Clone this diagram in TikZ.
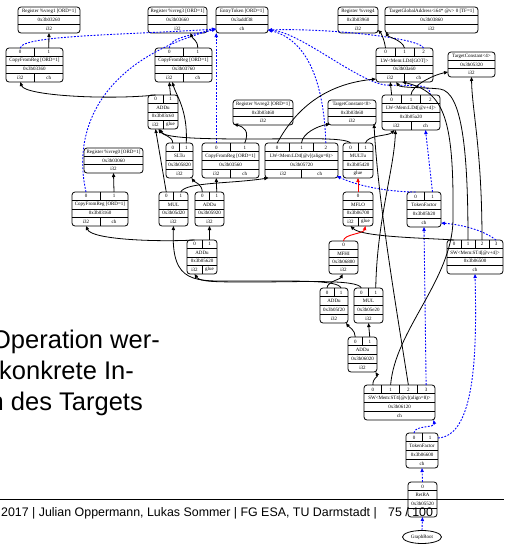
\documentclass[tikz,border=0pt]{standalone}
\usepackage{fontspec}
\setmainfont{Liberation Serif}
\newfontfamily\slidesans{Liberation Sans}
\usetikzlibrary{arrows.meta,calc,shapes.geometric}
\newcommand{\recfont}{\fontsize{5}{5.4}\selectfont}

\tikzset{
  recbox/.style={draw, line width=0.8pt, rounded corners=3pt, inner sep=0pt, outer sep=0pt},
  recline/.style={line width=0.6pt},
  rtext/.style={font=\recfont, inner sep=0pt},
  val/.style={draw=black, line width=0.8pt, -{Triangle[length=4pt,width=3.3pt]}},
  chn/.style={draw=blue, line width=0.9pt, dash pattern=on 1.8pt off 1.5pt, -{Triangle[length=4pt,width=3.3pt]}},
  glu/.style={draw=red, line width=0.9pt, -{Triangle[length=4pt,width=3.3pt]}},
  slidetext/.style={font=\slidesans\fontsize{25.5}{30}\selectfont, inner sep=0pt, anchor=base east},
  foottext/.style={font=\slidesans\fontsize{12.4}{14}\selectfont, inner sep=0pt},
}

% record node: name, x1, y1, x2, y2, number of operand ports, opcode, address, result types
\newcommand{\recnode}[9]{%
  \pgfmathsetmacro\RNw{#4-#2}%
  \pgfmathsetmacro\RNh{#5-#3}%
  \pgfmathsetmacro\RNcx{(#2+#4)/2}%
  \pgfmathsetmacro\RNcy{(#3+#5)/2}%
  \node[recbox, minimum width=\RNw pt, minimum height=\RNh pt] (#1) at (\RNcx,\RNcy) {};
  \ifnum#6>0 \def\RNnr{4}\else\def\RNnr{3}\fi
  \pgfmathsetmacro\RNdy{\RNh/\RNnr}%
  \pgfmathtruncatemacro\RNlast{\RNnr-1}%
  \foreach \kk in {1,...,\RNlast}{\draw[recline] (#2,{#3+\kk*\RNdy}) -- (#4,{#3+\kk*\RNdy});}
  \ifnum#6>0
    \pgfmathsetmacro\RNpw{\RNw/#6}%
    \pgfmathtruncatemacro\RNpl{#6-1}%
    \foreach \pp in {0,...,\RNpl}{%
      \coordinate (#1-p\pp) at ({#2+(\pp+0.5)*\RNpw},#3);
      \node[rtext] at ({#2+(\pp+0.5)*\RNpw},{#3+0.5*\RNdy}) {\pp};
      \ifnum\pp>0 \draw[recline] ({#2+\pp*\RNpw},#3) -- ({#2+\pp*\RNpw},{#3+\RNdy});\fi
    }
    \pgfmathsetmacro\RNly{#3+\RNdy}%
  \else
    \pgfmathsetmacro\RNly{#3}%
  \fi
  \node[rtext] at (\RNcx,{\RNly+0.5*\RNdy}) {#7};
  \node[rtext] at (\RNcx,{\RNly+1.5*\RNdy}) {#8};
  \pgfmathsetmacro\RNoy{\RNly+2*\RNdy}%
  \foreach \ot [count=\oc] in {#9}{\xdef\RNm{\oc}}%
  \pgfmathsetmacro\RNow{\RNw/\RNm}%
  \foreach \ot [count=\oc from 0] in {#9}{%
    \coordinate (#1-o\oc) at ({#2+(\oc+0.5)*\RNow},#5);
    \node[rtext] at ({#2+(\oc+0.5)*\RNow},{\RNoy+0.5*\RNdy}) {\ot};
    \ifnum\oc>0 \draw[recline] ({#2+\oc*\RNow},\RNoy) -- ({#2+\oc*\RNow},#5);\fi
  }
}

\begin{document}
\begin{tikzpicture}[x=1pt,y=-1pt]
\useasboundingbox (0,0) rectangle (504,544);
\fill[white] (0,0) rectangle (504,544);

% slide text and footer
\node[slidetext] (l1) at (160,348) {Operation wer-};
\node[slidetext] (l2) at (134,379) {konkrete In-};
\node[slidetext] (l3) at (143,410) {n des Targets};
\draw[line width=0.6pt] (0,499) -- (504,499);
\node[foottext, anchor=base east] (f1) at (377,516) {2017 | Julian Oppermann, Lukas Sommer | FG ESA, TU Darmstadt |};
\node[foottext, anchor=base west] (f2) at (388,516) {75 / 100};

% DAG nodes
\recnode{R1}{18}{7}{80}{33}{0}{Register \%vreg1 [ORD=1]}{0x3b03260}{i32}
\recnode{R3}{148}{7}{207}{33}{0}{Register \%vreg3 [ORD=1]}{0x3b03660}{i32}
\recnode{ET}{216}{7}{268}{33}{0}{EntryToken [ORD=1]}{0x3addf38}{ch}
\recnode{R4}{338}{7}{378}{33}{0}{Register \%vreg4}{0x3b03960}{i32}
\recnode{TGA}{385}{7}{478}{33}{0}{TargetGlobalAddress<i64* @v> 0 [TF=1]}{0x3b03860}{i32}
\recnode{CFR1}{6}{48}{63}{82}{2}{CopyFromReg [ORD=1]}{0x3b03360}{i32,ch}
\recnode{CFR3}{155}{48}{212}{82}{2}{CopyFromReg [ORD=1]}{0x3b03760}{i32,ch}
\recnode{LWGOT}{376}{48}{433}{82}{3}{LW<Mem:LD4[GOT]>}{0x3b03a60}{i32,ch}
\recnode{TC1}{448}{52}{495}{77}{0}{TargetConstant<4>}{0x3b05320}{i32}
\recnode{ADDuA}{148}{95}{178}{129}{2}{ADDu}{0x3b03c60}{i32,glue}
\recnode{R2}{233}{100}{293}{125}{0}{Register \%vreg2 [ORD=1]}{0x3b03460}{i32}
\recnode{TC2}{328}{100}{376}{125}{0}{TargetConstant<0>}{0x3b03b60}{i32}
\recnode{LWc}{382}{95}{440}{130}{3}{LW<Mem:LD4[@v+4]>}{0x3b05a20}{i32,ch}
\recnode{R0}{84}{148}{143}{173}{0}{Register \%vreg0 [ORD=1]}{0x3b03060}{i32}
\recnode{SLTu}{166}{143}{193}{178}{2}{SLTu}{0x3b05820}{i32}
\recnode{CFR2}{202}{143}{259}{178}{2}{CopyFromReg [ORD=1]}{0x3b03560}{i32,ch}
\recnode{LWv}{265}{143}{338}{178}{3}{LW<Mem:LD4[@v](align=8)>}{0x3b05720}{i32,ch}
\recnode{MULTu}{343}{143}{373}{178}{2}{MULTu}{0x3b05420}{glue}
\recnode{CFR0}{72}{192}{128}{226}{2}{CopyFromReg [ORD=1]}{0x3b03160}{i32,ch}
\recnode{MULA}{159}{192}{188}{226}{2}{MUL}{0x3b05d20}{i32}
\recnode{ADDuB}{195}{192}{224}{226}{2}{ADDu}{0x3b05920}{i32}
\recnode{MFLO}{343}{192}{373}{226}{1}{MFLO}{0x3b06700}{i32,glue}
\recnode{TFA}{407}{192}{441}{227}{2}{TokenFactor}{0x3b05b20}{ch}
\recnode{ADDuC}{187}{240}{217}{274}{2}{ADDu}{0x3b05620}{i32,glue}
\recnode{MFHI}{329}{241}{358}{274}{1}{MFHI}{0x3b06800}{i32}
\recnode{SWvh}{447}{240}{503}{274}{4}{SW<Mem:ST4[@v+4]>}{0x3b06500}{ch}
\recnode{ADDuD}{320}{288}{348}{323}{2}{ADDu}{0x3b05f20}{i32}
\recnode{MULB}{354}{288}{383}{323}{2}{MUL}{0x3b05e20}{i32}
\recnode{ADDuE}{348}{337}{377}{372}{2}{ADDu}{0x3b06020}{i32}
\recnode{SWv}{364}{385}{435}{420}{4}{SW<Mem:ST4[@v](align=8)>}{0x3b06120}{ch}
\recnode{TFB}{406}{433}{438}{468}{2}{TokenFactor}{0x3b06600}{ch}
\recnode{RetRA}{408}{482}{437}{517}{1}{RetRA}{0x3b05520}{\mbox{}}
\node[ellipse, draw, line width=0.8pt, minimum width=39pt, minimum height=13pt, inner sep=0pt, font=\recfont] (GR) at (422,537) {GraphRoot};

% chain edges
\draw[chn] (CFR1-p0) .. controls +(2,-13) and +(-90,6) .. ($(ET.south west)+(0,-4)$);
\draw[chn] (CFR3-p0) .. controls +(0,-10) and +(-25,6) .. ($(ET.south west)+(0,-4)$);
\draw[chn] (CFR0-p0) .. controls (72,130) and (100,60) .. ($(ET.south west)+(0,-4)$);
\draw[chn] (CFR2-p0) -- (CFR2-p0 |- ET.south);
\draw[chn] (LWGOT-p2) .. controls +(-3,-10) and +(60,-2) .. ($(ET.south east)+(0,-3)$);
\draw[chn] (LWv-p2) .. controls +(-2,-60) and +(40,10) .. ($(ET.south east)+(0,-3)$);
\draw[chn] (LWc-p2) .. controls +(0,-12) and +(30,1) .. (385,85) .. controls (355,80) and (300,32) .. ($(ET.south east)+(0,-3)$);
\draw[chn] (TFA-p0) .. controls +(-20,0) and +(25,12) .. ($(LWv-o1)+(17,-2)$);
\draw[chn] (TFA-p1) -- (LWc-o1);
\draw[chn] (SWv-p3) -- (TFA-o0);
\draw[chn] (SWvh-p3) .. controls +(-10,-8) and +(25,2) .. ($(TFA.south east)+(0,-4)$);
\draw[chn] (TFB-p0) .. controls +(0,-8) and +(2,8) .. ($(SWv-o0)+(34,0)$);
\draw[chn] ($(TFB.north east)+(0,5)$) .. controls +(37,-2) and +(2,80) .. (SWvh-o0);
\draw[chn] (RetRA-p0) -- (TFB-o0);
\draw[chn] (GR.north) -- (RetRA-o0);

% glue edges
\draw[glu] (MFLO-p0) -- (MULTu-o0);
\draw[glu] (MFHI-p0) .. controls +(0,-7) and +(-2,8) .. (MFLO-o1);

% value edges
\draw[val] (CFR1-p1) -- (R1-o0);
\draw[val] (CFR3-p1) .. controls +(0,-8) and +(2,6) .. ($(R3-o0)+(13,0)$);
\draw[val] (CFR2-p1) .. controls +(5,-12) and +(10,3) .. ($(R2-o0)+(-29,-1)$);
\draw[val] (CFR0-p1) -- (R0-o0);
\draw[val] (LWGOT-p0) .. controls +(-1,-8) and +(3,3) .. ($(R4.south east)+(0,-3)$);
\draw[val] (LWGOT-p1) .. controls +(-2,-8) and +(2,5) .. ($(TGA.south west)+(1,-1)$);
\draw[val] (ADDuA-p0) .. controls (110,100) and (25,96) .. (CFR1-o0);
\draw[val] (ADDuA-p1) -- (CFR3-o0);
\draw[val] (SLTu-p0) .. controls +(0,-7) and +(4,6) .. ($(ADDuA-o0)+(3,0)$);
\draw[val] (SLTu-p1) .. controls (188,110) and (176,95) .. ($(CFR3-o0)+(3,0)$);
\draw[val] (MULA-p0) -- (ADDuA-o0);
\draw[val] (MULA-p1) .. controls +(5,-10) and +(-40,6) .. ($(LWv-o0)+(-15,0)$);
\draw[val] (ADDuB-p0) .. controls +(0,-8) and +(3,4) .. ($(SLTu-o0)+(12,0)$);
\draw[val] (ADDuB-p1) -- (CFR2-o0);
\draw[val] (ADDuC-p0) .. controls (160,242) and (92,240) .. (CFR0-o0);
\draw[val] (ADDuC-p1) -- (ADDuB-o0);
\draw[val] (MULTu-p0) .. controls (345,137) and (300,139) .. (250,139) .. controls (200,139) and (165,138) .. ($(ADDuA-o0)+(4,0)$);
\draw[val] (MULTu-p1) .. controls +(2,-8) and +(-6,6) .. ($(LWc-o0)+(-2,0)$);
\draw[val] (SWvh-p0) .. controls (425,238) and (362,237) .. (MFLO-o0);
\draw[val] (SWvh-p1) .. controls (468,150) and (462,92) .. (440,89) .. controls (420,87) and (400,88) .. ($(LWGOT-o0)+(6,0)$);
\draw[val] (SWvh-p2) .. controls (482,150) and (472,110) .. (TC1-o0);
\draw[val] (SWv-p0) .. controls +(0,-8) and +(3,5) .. ($(ADDuE-o0)+(13,0)$);
\draw[val] (SWv-p1) .. controls (395,330) and (452,280) .. (453,220) .. controls (454,120) and (445,92) .. ($(LWGOT-o0)+(12,0)$);
\draw[val] (SWv-p2) .. controls (395,300) and (378,200) .. ($(TC2-o0)+(22,-1)$);
\draw[val] (MULB-p1) .. controls (377,220) and (394,170) .. ($(LWc-o0)+(-1,0)$);
\draw[val] (MULB-p0) .. controls (358,279) and (300,282) .. (255,282) .. controls (215,282) and (200,282) .. (ADDuC-o0);
\draw[val] (ADDuD-p1) .. controls (338,280) and (300,281) .. (240,281) .. controls (195,281) and (171,285) .. (MULA-o0);
\draw[val] (ADDuD-p0) .. controls +(0,-6) and +(-2,5) .. ($(MFHI-o0)+(-1,0)$);
\draw[val] (ADDuE-p0) .. controls +(0,-7) and +(3,4) .. ($(ADDuD-o0)+(12,0)$);
\draw[val] (ADDuE-p1) -- (MULB-o0);
\draw[val] (LWv-p0) .. controls (290,120) and (315,85) .. ($(LWGOT.south west)+(0,-3)$);
\draw[val] (LWv-p1) .. controls +(1,-10) and +(-12,2) .. ($(TC2-o0)+(-22,-1)$);
\draw[val] (LWc-p0) -- (LWGOT-o0);
\draw[val] (LWc-p1) .. controls +(0,-9) and +(-15,3) .. ($(TC1.south west)+(0,-5)$);
\end{tikzpicture}
\end{document}
